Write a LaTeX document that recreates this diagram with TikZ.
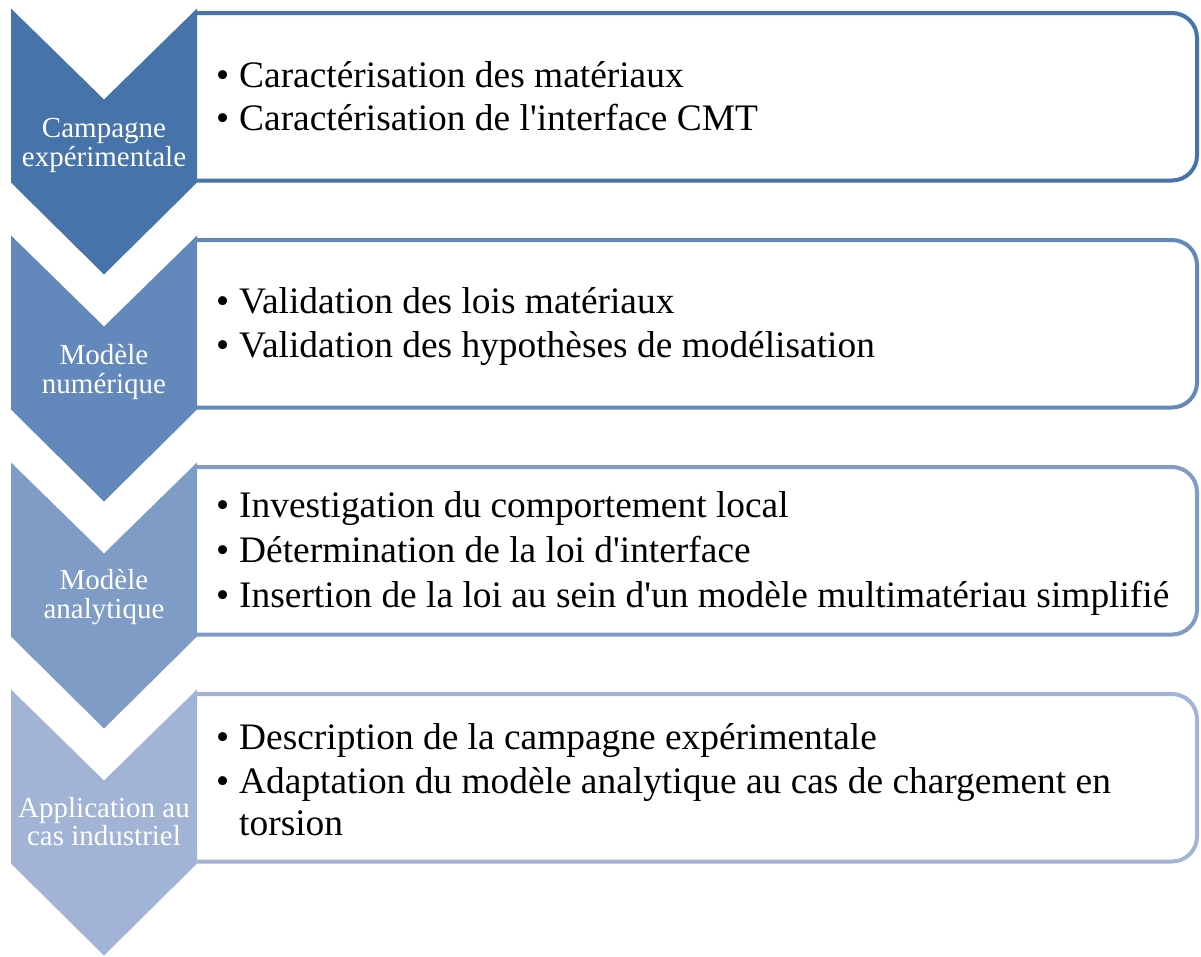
\documentclass[tikz,border=0pt]{standalone}
\usepackage{fontspec}
\setmainfont{Liberation Serif}[Ligatures=TeXOff]
\definecolor{cA}{HTML}{4673AA}
\definecolor{cB}{HTML}{6388BB}
\definecolor{cC}{HTML}{7F9CC7}
\definecolor{cD}{HTML}{A1B4D6}
\tikzset{
  itembox/.style={line width=4pt, fill=white, rounded corners=25pt},
  chevlabel/.style={anchor=base, inner sep=0pt, text=white, font=\fontsize{29}{29}\selectfont},
  bul/.style={anchor=base west, inner sep=0pt, font=\fontsize{37.4}{45}\selectfont},
  itemtext/.style={anchor=base west, inner sep=0pt, font=\fontsize{37.4}{45}\selectfont},
}
\begin{document}
\begin{tikzpicture}[x=1pt,y=-1pt]
\useasboundingbox (0,0) rectangle (1201,956);
\fill[white] (0,0) rectangle (1201,956);
% boxes and chevrons
\foreach \t/\c in {8.5/cA,235.5/cB,462.5/cC,689.5/cD}{
  \draw[itembox, draw=\c] (197,\t+4.5) -- (1197,\t+4.5) -- (1197,\t+172) -- (197,\t+172);
  \fill[\c] (11,\t) -- (104,\t+91) -- (197,\t) -- (197,\t+174) -- (104,\t+266) -- (11,\t+174) -- cycle;
}
% chevron labels
\node[chevlabel] (l1a) at (104,137) {Campagne};
\node[chevlabel] (l1b) at (104,166) {expérimentale};
\node[chevlabel] (l2a) at (104,364) {Modèle};
\node[chevlabel] (l2b) at (104,393) {numérique};
\node[chevlabel] (l3a) at (104,589) {Modèle};
\node[chevlabel] (l3b) at (104,618) {analytique};
\node[chevlabel] (l4a) at (104,817) {Application au};
\node[chevlabel] (l4b) at (104,845) {cas industriel};
% box 1
\node[bul] (b11) at (216,87) {•};
\node[itemtext] (t11) at (239,87) {Caractérisation des matériaux};
\node[bul] (b12) at (216,130.5) {•};
\node[itemtext] (t12) at (239,130.5) {Caractérisation de l'interface CMT};
% box 2
\node[bul] (b21) at (216,313) {•};
\node[itemtext] (t21) at (239,313) {Validation des lois matériaux};
\node[bul] (b22) at (216,357) {•};
\node[itemtext] (t22) at (239,357) {Validation des hypothèses de modélisation};
% box 3
\node[bul] (b31) at (216,517) {•};
\node[itemtext] (t31) at (239,517) {Investigation du comportement local};
\node[bul] (b32) at (216,562) {•};
\node[itemtext] (t32) at (239,562) {Détermination de la loi d'interface};
\node[bul] (b33) at (216,607) {•};
\node[itemtext] (t33) at (239,607) {Insertion de la loi au sein d'un modèle multimatériau simplifié};
% box 4
\node[bul] (b41) at (216,749) {•};
\node[itemtext] (t41) at (239,749) {Description de la campagne expérimentale};
\node[bul] (b42) at (216,793) {•};
\node[itemtext] (t42) at (239,793) {Adaptation du modèle analytique au cas de chargement en};
\node[itemtext] (t43) at (239,835) {torsion};
\end{tikzpicture}
\end{document}
